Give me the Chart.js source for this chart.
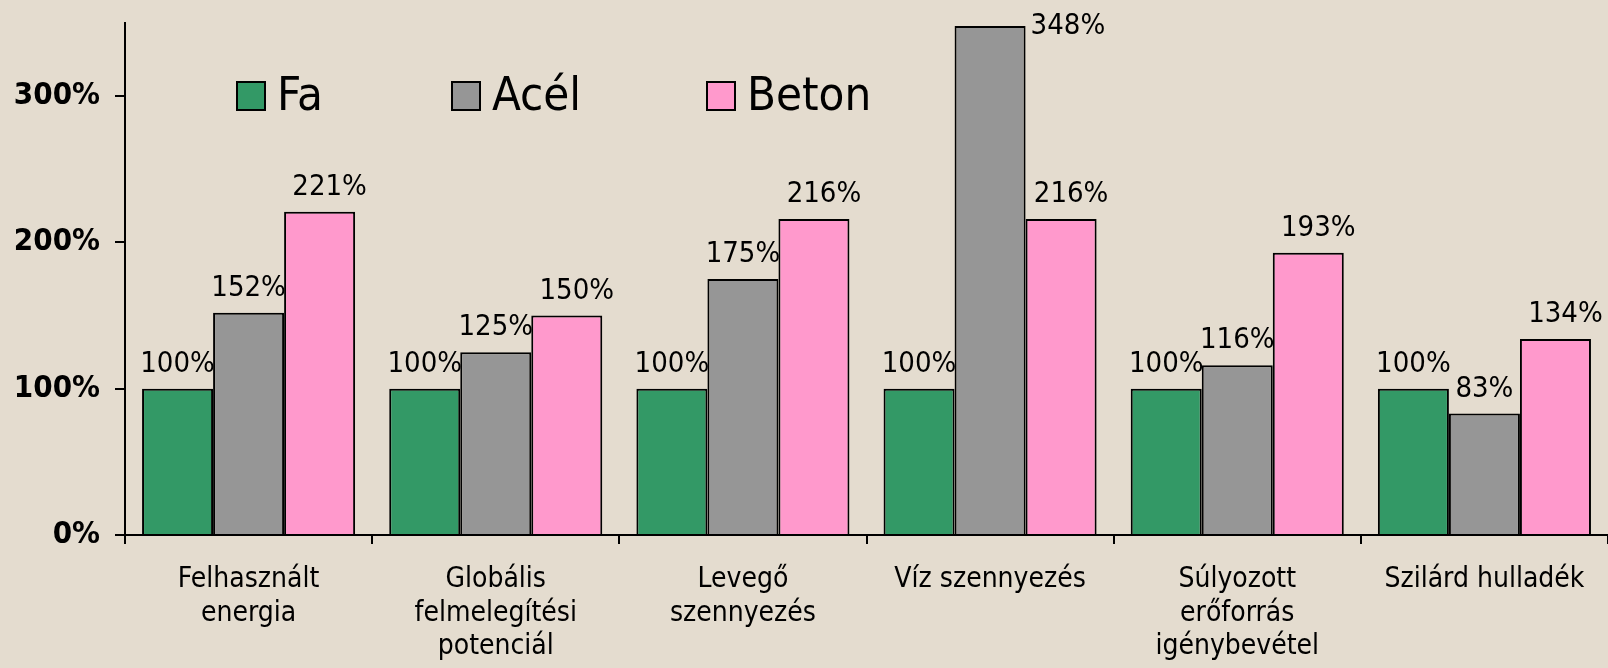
<!DOCTYPE html>
<html><head><meta charset="utf-8">
<script src="https://cdn.jsdelivr.net/npm/chart.js@4.4.1/dist/chart.umd.min.js"></script>
<style>
html,body{margin:0;padding:0;background:#e4dccf;overflow:hidden;}
#wrap{width:1608px;height:668px;position:relative;}
</style></head><body>
<div id="wrap"><canvas id="c" width="1608" height="668"></canvas></div>
<script>
const categories = [["Felhasznált","energia"],["Globális","felmelegítési","potenciál"],["Levegő","szennyezés"],["Víz szennyezés"],["Súlyozott","erőforrás","igénybevétel"],["Szilárd hulladék"]];
const seriesNames = ["Fa","Acél","Beton"];
const fa = [100,100,100,100,100,100];
const acel = [152,125,175,348,116,83];
const beton = [221,150,216,216,193,134];
const yTickValues = [0,100,200,300];
const yMax = 350;
const colors = ["#339966","#969696","#FF99CC"];

const FONT = "'DejaVu Sans Condensed','DejaVu Sans',sans-serif";
const labelShift = [0,0,10];

const dataLabels = {
  id:'dataLabels',
  afterDatasetsDraw(chart){
    const ctx = chart.ctx, area = chart.chartArea;
    ctx.save();
    ctx.font = "29px " + FONT;
    ctx.fillStyle = "#000";
    ctx.textBaseline = "alphabetic";
    chart.data.datasets.forEach((ds,di)=>{
      const meta = chart.getDatasetMeta(di);
      meta.data.forEach((el,i)=>{
        const txt = ds.data[i] + "%";
        const w = ctx.measureText(txt).width;
        if (el.y - 17 - 22 < area.top) {
          ctx.textAlign = "left";
          ctx.fillText(txt, el.x + el.width/2 + 5, el.y + 8);
        } else {
          let cx = el.x + labelShift[di];
          if (cx + w/2 > chart.width - 4) cx = chart.width - 4 - w/2;
          ctx.textAlign = "center";
          ctx.fillText(txt, cx, el.y - 17);
        }
      });
    });
    ctx.restore();
  }
};

const legendOffsets = [112, 327, 582];
const customLegend = {
  id:'customLegend',
  afterDraw(chart){
    const ctx = chart.ctx, area = chart.chartArea;
    ctx.save();
    ctx.font = "47px " + FONT;
    ctx.textBaseline = "alphabetic";
    ctx.textAlign = "left";
    chart.data.datasets.forEach((ds,di)=>{
      const x = area.left + legendOffsets[di];
      const y = 82;
      ctx.fillStyle = ds.backgroundColor;
      ctx.fillRect(x, y, 28, 28);
      ctx.lineWidth = 2;
      ctx.strokeStyle = "#000";
      ctx.strokeRect(x, y, 28, 28);
      ctx.fillStyle = "#000";
      ctx.fillText(ds.label, x + 40, 110);
    });
    ctx.restore();
  }
};

new Chart(document.getElementById('c'), {
  type:'bar',
  data:{
    labels: categories,
    datasets: [
      {label: seriesNames[0], data: fa, backgroundColor: colors[0]},
      {label: seriesNames[1], data: acel, backgroundColor: colors[1]},
      {label: seriesNames[2], data: beton, backgroundColor: colors[2]}
    ].map(d=>Object.assign(d,{borderColor:'#000', borderWidth:2, categoryPercentage:0.862, barPercentage:1.0}))
  },
  options:{
    responsive:false,
    animation:false,
    devicePixelRatio:1,
    layout:{padding:{top:23,right:0,left:0,bottom:0}},
    plugins:{legend:{display:false}, tooltip:{enabled:false}},
    scales:{
      x:{
        grid:{offset:true, drawOnChartArea:false, tickLength:9, color:'#000', lineWidth:2},
        border:{color:'#000', width:2},
        ticks:{font:{family:FONT, size:28, lineHeight:1.2}, color:'#000', padding:19, maxRotation:0, autoSkip:false},
        afterFit(s){ s.height = 133; s.paddingLeft = 0; s.paddingRight = 0; }
      },
      y:{
        min:0, max:yMax,
        grid:{drawOnChartArea:false, tickLength:10, color:'#000', lineWidth:2},
        border:{color:'#000', width:2},
        ticks:{font:{family:FONT, size:31, weight:'bold'}, color:'#000', padding:15, stepSize:100, callback:v=>v+'%'},
        afterBuildTicks(s){ s.ticks = yTickValues.map(v=>({value:v})); },
        afterFit(s){ s.width = 125; s.paddingTop = 0; s.paddingBottom = 0; }
      }
    }
  },
  plugins:[dataLabels, customLegend]
});
</script>
</body></html>
